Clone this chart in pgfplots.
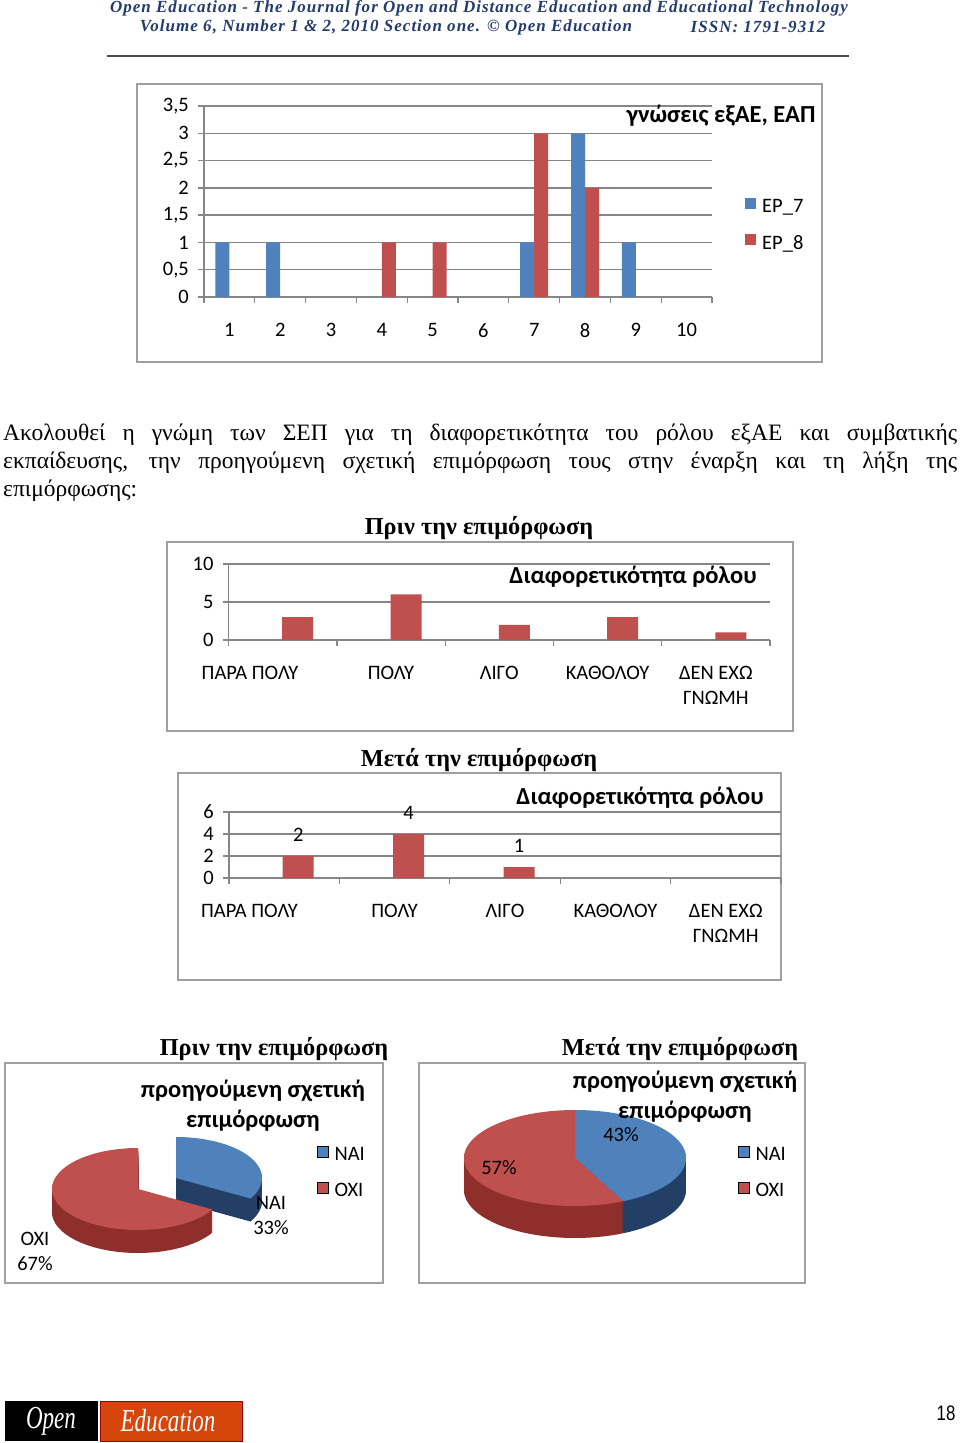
\documentclass[border=0pt]{standalone}
\usepackage{pgfplots}
\pgfplotsset{compat=1.18}
\usepackage{fontspec}
\setmainfont{Liberation Serif}
\newfontfamily\calibri{Carlito}
\newfontfamily\hdrfont[LetterSpace=6]{Liberation Serif}
\newfontfamily\arialfont{Liberation Sans}

\definecolor{axgray}{HTML}{868686}
\definecolor{framegray}{HTML}{A0A0A0}
\definecolor{blueA}{HTML}{4F81BD}
\definecolor{redA}{HTML}{C0504D}
\definecolor{blueSide}{HTML}{243F66}
\definecolor{redSide}{HTML}{8E2F2C}
\definecolor{headblue}{HTML}{233B6E}
\definecolor{logoorange}{HTML}{D5450C}

\newcommand\tickfont{\calibri\fontsize{20.5}{25}\selectfont}
\newcommand\ttlfont{\calibri\bfseries\fontsize{24.5}{30}\selectfont}
\newcommand\serttl{\bfseries\fontsize{24.3}{27}\selectfont}

\pgfplotsset{
  xlbar/.style={
    scale only axis, anchor=south west,
    axis x line*=bottom, axis y line*=left,
    x axis line style={-}, y axis line style={-},
    axis line style={draw=axgray, line width=1.3pt},
    ymajorgrids, grid style={draw=axgray, line width=1.3pt},
    tick align=outside, major tick length=6pt,
    tick style={draw=axgray, line width=1.3pt},
    xticklabels={},
    extra x tick style={major tick length=0pt},
    tick label style={font=\tickfont},
    /pgf/number format/assume math mode=true,
    /pgf/number format/use comma,
    yticklabel style={inner sep=0pt, xshift=-9pt},
    xticklabel style={inner sep=0pt, yshift=-26pt, align=center},
  },
  sqlegend/.style={
    legend style={draw=none, fill=none, font=\tickfont, row sep=15.5pt,
      column sep=3pt, inner sep=0pt, nodes={inner sep=3pt}},
    legend cell align=left,
    legend image code/.code={\fill[##1] (0pt,-2.5pt) rectangle (11pt,8.5pt);},
  },
}

\begin{document}
\begin{tikzpicture}[x=1pt,y=1pt]
\useasboundingbox (0,0) rectangle (960,-1443);
\fill[white] (0,0) rectangle (960,-1443);

% header
\node[text=headblue, font=\hdrfont\bfseries\itshape\fontsize{17}{20}\selectfont] at (479,-8)
  {Open Education - The Journal for Open and Distance Education and Educational Technology};
\node[text=headblue, font=\hdrfont\bfseries\itshape\fontsize{17}{20}\selectfont] at (386,-27)
  {Volume 6, Number 1 \& 2, 2010 Section one. © Open Education};
\node[text=headblue, font=\hdrfont\bfseries\itshape\fontsize{17}{20}\selectfont] at (758,-27)
  {ISSN: 1791-9312};
\draw[black!70, line width=1.5pt] (107,-56) -- (849,-56);

% frames
\draw[framegray, line width=1.6pt] (137,-84) rectangle (822,-362);
\draw[framegray, line width=1.6pt] (167,-542) rectangle (793,-731);
\draw[framegray, line width=1.6pt] (178,-773) rectangle (781,-980);
\draw[framegray, line width=1.6pt] (5,-1063) rectangle (383,-1283);
\draw[framegray, line width=1.6pt] (419,-1063) rectangle (805,-1283);

% chart 1
\begin{axis}[xlbar, at={(204pt,-297pt)}, width=508pt, height=191pt,
  xmin=0.5, xmax=10.5, ymin=0, ymax=3.5,
  ytick={0,0.5,1,1.5,2,2.5,3,3.5},
  xtick={0.5,1.5,2.5,3.5,4.5,5.5,6.5,7.5,8.5,9.5,10.5},
  extra x ticks={1,2,3,4,5,6,7,8,9,10},
  ybar=0pt, bar width=14pt,
  sqlegend,
  legend style={at={(axis description cs:1.065,0.53)}, anchor=north west},
]
\addplot[fill=blueA, draw=none] coordinates {(1,1)(2,1)(7,1)(8,3)(9,1)};
\addlegendentry{EP\_7}
\addplot[fill=redA, draw=none] coordinates {(4,1)(5,1)(7,3)(8,2)};
\addlegendentry{EP\_8}
\end{axis}
\node[font=\ttlfont] at (721,-116) {γνώσεις εξΑΕ, ΕΑΠ};

% paragraph
\node[anchor=north west, inner sep=0pt, text width=954pt, align=justify,
  font=\fontsize{23.5}{28}\selectfont] at (3,-424)
  {Ακολουθεί η γνώμη των ΣΕΠ για τη διαφορετικότητα του ρόλου εξΑΕ και συμβατικής\linebreak
   εκπαίδευσης, την προηγούμενη σχετική επιμόρφωση τους στην έναρξη και τη λήξη της\linebreak
   επιμόρφωσης:};

% chart 2
\node[font=\serttl] at (479,-528) {Πριν την επιμόρφωση};
\begin{axis}[xlbar, at={(228.6pt,-640pt)}, width=541.4pt, height=76pt,
  xmin=-0.5, xmax=4.5, ymin=0, ymax=10, ytick={0,5,10},
  xtick={-0.5,0.5,1.5,2.5,3.5,4.5},
  extra x ticks={0,1,2,3,4},
  extra x tick labels={\rlap{\hspace*{-81pt}ΠΑΡΑ ΠΟΛΥ},ΠΟΛΥ,ΛΙΓΟ,ΚΑΘΟΛΟΥ,{ΔΕΝ ΕΧΩ\\ΓΝΩΜΗ}},
  ybar=0pt, bar width=31pt,
]
\addplot[fill=redA, draw=none, bar shift=15pt] coordinates {(0,3)(1,6)(2,2)(3,3)(4,1)};
\end{axis}
\node[font=\ttlfont] at (633,-577) {Διαφορετικότητα ρόλου};

% chart 3
\node[font=\serttl] at (479,-760) {Μετά την επιμόρφωση};
\begin{axis}[xlbar, at={(229pt,-878pt)}, width=552pt, height=66pt,
  xmin=-0.5, xmax=4.5, ymin=0, ymax=6, ytick={0,2,4,6},
  xtick={-0.5,0.5,1.5,2.5,3.5,4.5},
  extra x ticks={0,1,2,3,4},
  extra x tick labels={\rlap{\hspace*{-83pt}ΠΑΡΑ ΠΟΛΥ},ΠΟΛΥ,ΛΙΓΟ,ΚΑΘΟΛΟΥ,{ΔΕΝ ΕΧΩ\\ΓΝΩΜΗ}},
  ybar=0pt, bar width=31pt,
]
\addplot[fill=redA, draw=none, bar shift=14pt, nodes near coords,
  every node near coord/.append style={font=\tickfont, anchor=center, yshift=21pt}]
  coordinates {(0,2)(1,4)(2,1)};
\end{axis}
\node[font=\ttlfont] at (640,-798) {Διαφορετικότητα ρόλου};

% pie 1
\node[font=\serttl] at (274,-1049) {Πριν την επιμόρφωση};
\node[font=\ttlfont, align=center] at (253,-1106) {προηγούμενη σχετική\\επιμόρφωση};
\begin{axis}[sqlegend, hide axis, x=1pt, y=1pt, xmin=-150, xmax=150, ymin=-80, ymax=80,
  at={(-12pt,-1269pt)}, anchor=south west, clip=false,
  legend style={at={(axis cs:179,45)}, anchor=north west},
]
\pgfplotsinvokeforeach{1,...,23}{
  \addplot[forget plot, draw=none, fill=blueSide, domain=-30:90, samples=40, variable=\t]
    ({38+86*cos(\t)},{11+41*sin(\t)-#1}) -- (axis cs:38,{11-#1}) -- cycle;
}
\addplot[forget plot, draw=none, fill=blueA, domain=-30:90, samples=60, variable=\t]
  ({38+86*cos(\t)},{11+41*sin(\t)}) -- (axis cs:38,11) -- cycle;
\pgfplotsinvokeforeach{1,...,23}{
  \addplot[forget plot, draw=none, fill=redSide, domain=90:330, samples=60, variable=\t]
    ({86*cos(\t)},{41*sin(\t)-#1}) -- (axis cs:0,{-#1}) -- cycle;
}
\addplot[forget plot, draw=none, fill=redA, domain=90:330, samples=80, variable=\t]
  ({86*cos(\t)},{41*sin(\t)}) -- (axis cs:0,0) -- cycle;
\addlegendimage{fill=blueA}\addlegendentry{ΝΑΙ}
\addlegendimage{fill=redA}\addlegendentry{ΟΧΙ}
\end{axis}
\node[font=\tickfont, align=center] at (271,-1215) {ΝΑΙ\\33\%};
\node[font=\tickfont, align=center] at (35,-1251) {ΟΧΙ\\67\%};

% pie 2
\node[font=\serttl] at (680,-1049) {Μετά την επιμόρφωση};
\begin{axis}[sqlegend, hide axis, x=1pt, y=1pt, xmin=-150, xmax=150, ymin=-80, ymax=80,
  at={(425pt,-1238pt)}, anchor=south west, clip=false,
  legend style={at={(axis cs:163,14)}, anchor=north west},
]
\pgfplotsinvokeforeach{1,...,32}{
  \addplot[forget plot, draw=none, fill=blueSide, domain=-64.3:90, samples=50, variable=\t]
    ({111*cos(\t)},{48*sin(\t)-#1}) -- (axis cs:0,{-#1}) -- cycle;
}
\pgfplotsinvokeforeach{1,...,32}{
  \addplot[forget plot, draw=none, fill=redSide, domain=90:295.7, samples=60, variable=\t]
    ({111*cos(\t)},{48*sin(\t)-#1}) -- (axis cs:0,{-#1}) -- cycle;
}
\addplot[forget plot, draw=none, fill=blueA, domain=-64.3:90, samples=70, variable=\t]
  ({111*cos(\t)},{48*sin(\t)}) -- (axis cs:0,0) -- cycle;
\addplot[forget plot, draw=none, fill=redA, domain=90:295.7, samples=80, variable=\t]
  ({111*cos(\t)},{48*sin(\t)}) -- (axis cs:0,0) -- cycle;
\addlegendimage{fill=blueA}\addlegendentry{ΝΑΙ}
\addlegendimage{fill=redA}\addlegendentry{ΟΧΙ}
\end{axis}
\node[font=\ttlfont, align=center] at (685,-1097) {προηγούμενη σχετική\\επιμόρφωση};
\node[font=\tickfont] at (621,-1135) {43\%};
\node[font=\tickfont] at (499,-1168) {57\%};

% footer
\fill[black] (5,-1401) rectangle (98,-1441);
\fill[logoorange] (100,-1401) rectangle (242,-1441);
\draw[red!60!black, line width=1pt] (100,-1401) rectangle (242,-1441);
\node[text=white, font=\itshape\fontsize{32}{32}\selectfont] at (51,-1421) {\scalebox{0.72}[1]{Open}};
\node[text=white, font=\itshape\fontsize{32}{32}\selectfont] at (168,-1421) {\scalebox{0.72}[1]{Education}};
\node[font=\arialfont\fontsize{21}{24}\selectfont] at (946,-1413) {\scalebox{0.8}[1]{18}};
\end{tikzpicture}
\end{document}
